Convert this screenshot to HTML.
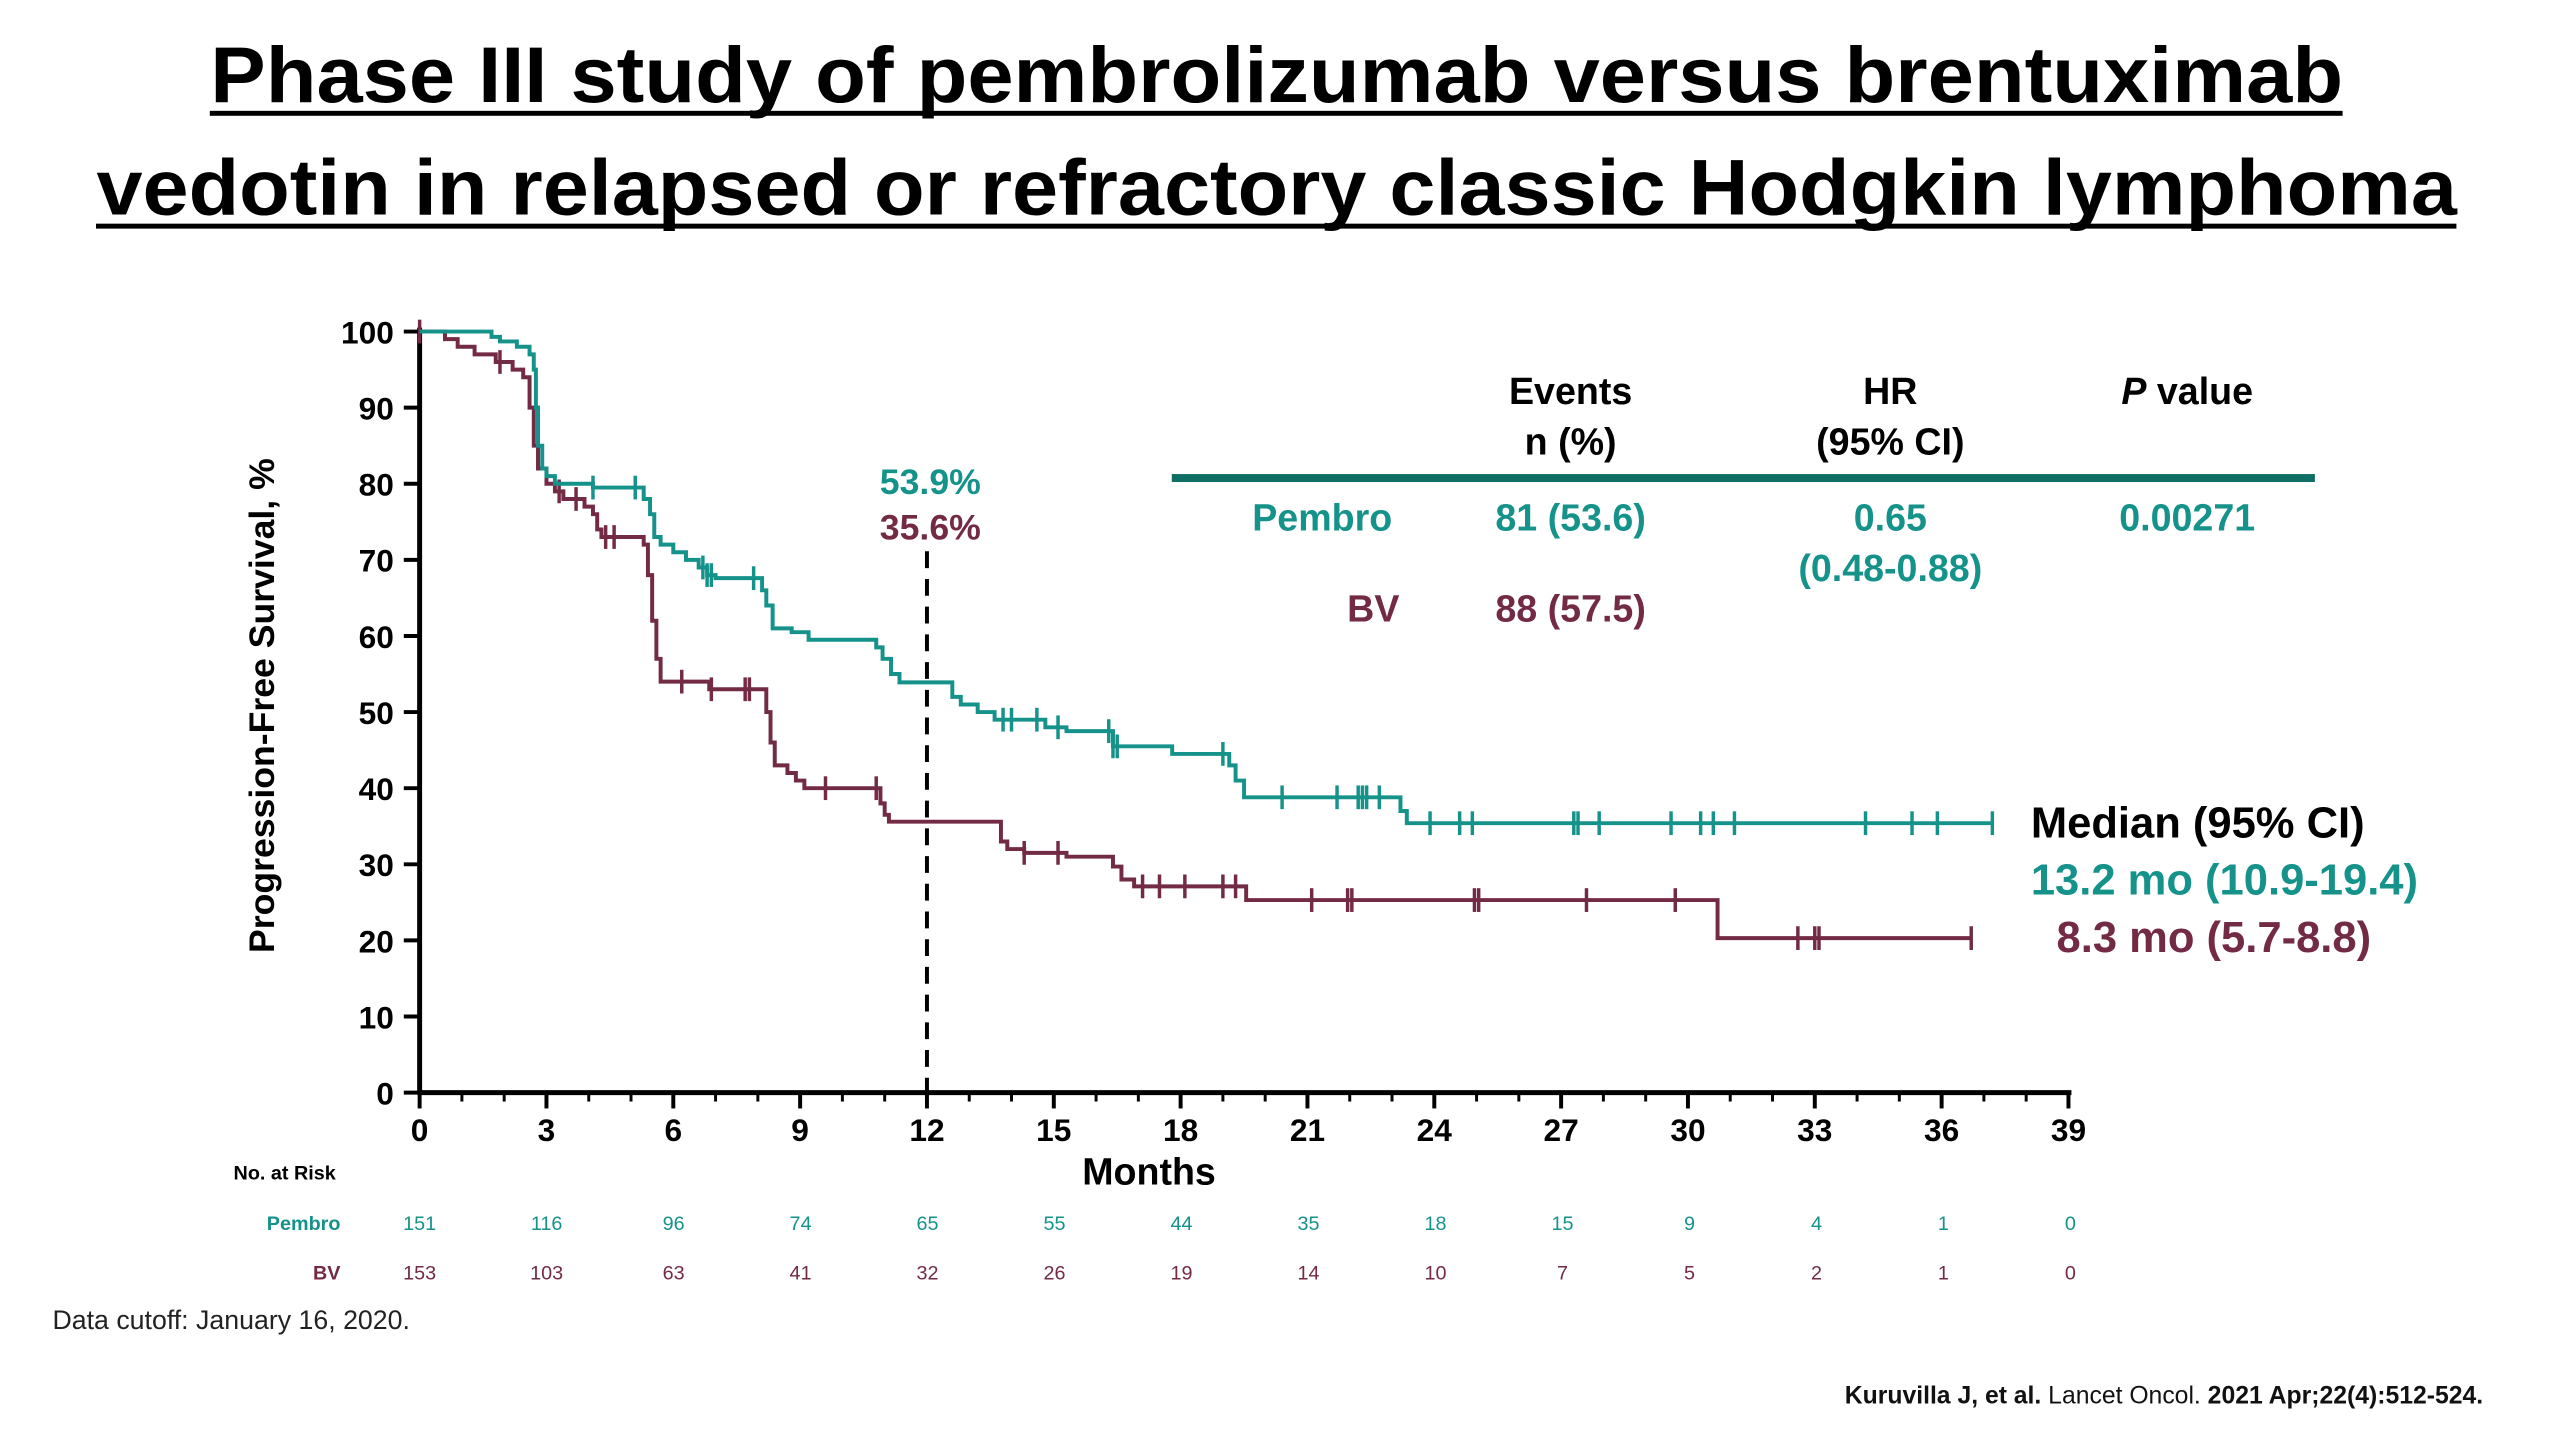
<!DOCTYPE html>
<html><head><meta charset="utf-8"><style>
html,body{margin:0;padding:0;background:#fff;width:2560px;height:1440px;overflow:hidden}
svg{display:block;font-family:"Liberation Sans",Arial,sans-serif}
</style></head><body>
<svg id="chart" width="2560" height="1440" viewBox="0 0 2586 1455" preserveAspectRatio="xMinYMin meet" xmlns="http://www.w3.org/2000/svg">
<g font-weight="bold" font-size="80" text-anchor="middle" fill="#000">
<text x="1290" y="103" textLength="2155" lengthAdjust="spacingAndGlyphs">Phase III study of pembrolizumab versus brentuximab</text>
<text x="1290" y="217" textLength="2385" lengthAdjust="spacingAndGlyphs">vedotin in relapsed or refractory classic Hodgkin lymphoma</text>
<rect x="212" y="112" width="2155" height="5" fill="#000"/>
<rect x="97" y="226" width="2385" height="5" fill="#000"/>
</g>
<g id="axes"></g>
<g id="curves"></g>
<g font-weight="bold" font-size="36" text-anchor="middle">
<text x="940" y="499" fill="#15928a">53.9%</text>
<text x="940" y="545" fill="#722a45">35.6%</text>
</g>
<g font-weight="bold" font-size="38" text-anchor="middle">
<text x="1587" y="408">Events</text>
<text x="1587" y="459">n (%)</text>
<text x="1910" y="408">HR</text>
<text x="1910" y="459">(95% CI)</text>
<text x="2210" y="408"><tspan font-style="italic">P</tspan> value</text>
<rect x="1184" y="479" width="1155" height="8" fill="#0e6e63"/>
<g fill="#15928a">
<text x="1336" y="536">Pembro</text>
<text x="1587" y="536">81 (53.6)</text>
<text x="1910" y="536">0.65</text>
<text x="1910" y="587">(0.48-0.88)</text>
<text x="2210" y="536">0.00271</text>
</g>
<g fill="#722a45">
<text x="1414" y="628" text-anchor="end">BV</text>
<text x="1587" y="628">88 (57.5)</text>
</g>
</g>
<g font-weight="bold" font-size="44">
<text x="2052" y="846" fill="#000">Median (95% CI)</text>
<text x="2052" y="904" fill="#15928a">13.2 mo (10.9-19.4)</text>
<text x="2078" y="962" fill="#722a45">8.3 mo (5.7-8.8)</text>
</g>
<g id="risk"></g>
<text x="53" y="1343" font-size="27" fill="#222">Data cutoff: January 16, 2020.</text>
<text x="2509" y="1418" font-size="25" font-weight="bold" text-anchor="end" fill="#111">Kuruvilla J, et al. <tspan font-weight="normal">Lancet Oncol.</tspan> 2021 Apr;22(4):512-524.</text>
</svg>
<script>
const xTicks=[0,3,6,9,12,15,18,21,24,27,30,33,36,39];
const yTicks=[0,10,20,30,40,50,60,70,80,90,100];
const pembroT=[1.7,1.9,2.3,2.6,2.7,2.75,2.8,2.9,3.0,3.2,4.1,5.3,5.45,5.55,5.7,6.0,6.3,6.6,6.8,7.0,8.1,8.2,8.35,8.8,9.2,10.8,10.95,11.15,11.35,12.6,12.8,13.2,13.6,14.8,15.3,16.4,17.8,19.15,19.3,19.5,23.2,23.35];
const pembroS=[99.3,98.7,98,97,95,90,85,82,81,80,79.5,78,76,73,72,71,70,69,68,67.6,66,64,61,60.5,59.5,58.5,57,55,53.9,52,51,50,49,48,47.5,45.5,44.5,43,41,38.8,37,35.4];
const pembroEnd=37.2;
const pembroCensor=[4.1,5.1,6.7,6.8,6.9,7.9,13.8,14.0,14.6,15.1,16.3,16.4,16.5,19.0,20.4,21.7,22.2,22.3,22.4,22.7,23.9,24.6,24.9,27.3,27.4,27.9,29.6,30.3,30.6,31.1,34.2,35.3,35.9,37.2];
const bvT=[0.6,0.9,1.3,1.8,2.2,2.45,2.6,2.7,2.8,3.0,3.2,3.4,3.9,4.1,4.2,4.3,5.3,5.4,5.5,5.6,5.7,6.85,8.2,8.3,8.4,8.7,8.9,9.1,10.9,11.0,11.1,13.75,13.9,14.3,15.3,16.4,16.6,16.9,19.55,30.7];
const bvS=[99,98,97,96,95,94,90,85,82,80,79,78,77,76,74,73,72,68,62,57,54,53,50,46,43,42,41,40,38,36.5,35.6,33,32,31.5,31,29.7,28,27.1,25.3,20.3];
const bvEnd=36.7;
const bvCensor=[0,1.9,3.3,3.7,4.4,4.6,6.2,6.9,7.7,7.8,9.6,10.8,14.3,15.1,17.1,17.5,18.1,19.0,19.3,21.1,21.95,22.05,24.95,25.05,27.6,29.7,32.6,33.0,33.1,36.7];
const riskPembro=[151,116,96,74,65,55,44,35,18,15,9,4,1,0];
const riskBV=[153,103,63,41,32,26,19,14,10,7,5,2,1,0];
const TEAL="#15928a", MAROON="#722a45";
const X0=424,X1=2090,Y0=1104,Y1=335;
function xs(t){return X0+(X1-X0)*t/39;}
function ys(v){return Y0+(Y1-Y0)*v/100;}
const NS="http://www.w3.org/2000/svg";
function mk(tag,parent,attrs){const e=document.createElementNS(NS,tag);for(const k in attrs)e.setAttribute(k,attrs[k]);parent.appendChild(e);return e;}
const axes=document.getElementById('axes');
let el;
el=mk('line',axes,{x1:X0,y1:Y1-4,x2:X0,y2:Y0+2,stroke:'#000','stroke-width':5});


el=mk('line',axes,{x1:X0-2,y1:Y0,x2:X1+3,y2:Y0,stroke:'#000','stroke-width':5});


yTicks.forEach(v=>{
  el=mk('line',axes,{x1:X0-16,y1:ys(v),x2:X0,y2:ys(v),stroke:'#000','stroke-width':4});
  
  
  el=mk('text',axes,{x:X0-26,y:ys(v)+12,'font-size':32,'font-weight':'bold','text-anchor':'end'});
  el.textContent=v;
  
  
});
for(let m=0;m<=39;m++){
  const major=m%3===0;
  el=mk('line',axes,{x1:xs(m),y1:Y0,x2:xs(m),y2:Y0+(major?16:9),stroke:'#000','stroke-width':major?4:3});
  
  
}
xTicks.forEach(m=>{
  el=mk('text',axes,{x:xs(m),y:1153,'font-size':32,'font-weight':'bold','text-anchor':'middle'});
  el.textContent=m;
  
  
});
el=mk('text',axes,{x:1161,y:1197,'font-size':38,'font-weight':'bold','text-anchor':'middle'});
el.textContent='Months';


el=mk('text',axes,{x:0,y:0,'font-size':36,'font-weight':'bold','text-anchor':'middle',transform:'translate(277,713) rotate(-90)'});
el.textContent='Progression-Free Survival, %';


el=mk('line',axes,{x1:xs(12),y1:557,x2:xs(12),y2:Y0,stroke:'#000','stroke-width':4,'stroke-dasharray':'17,11'});



const curves=document.getElementById('curves');
function curve(T,S,end,cens,color,name){
  let d='M'+xs(0)+' '+ys(100);
  for(let i=0;i<T.length;i++){d+=' H'+xs(T[i])+' V'+ys(S[i]);}
  d+=' H'+xs(end);
  el=mk('path',curves,{d:d,fill:'none',stroke:color,'stroke-width':4});
  
  
  function sAt(t){let s=100;for(let i=0;i<T.length;i++){if(T[i]<=t)s=S[i];}return s;}
  cens.forEach(t=>{
    const yy=ys(sAt(t));
    el=mk('line',curves,{x1:xs(t),y1:yy-12,x2:xs(t),y2:yy+12,stroke:color,'stroke-width':3.5});
    
    
  });
}
curve(bvT,bvS,bvEnd,bvCensor,MAROON,'bv');
curve(pembroT,pembroS,pembroEnd,pembroCensor,TEAL,'pembro');

const risk=document.getElementById('risk');
function rx(i){return 424+i*(2092-424)/13;}
el=mk('text',risk,{x:236,y:1192,'font-size':20,'font-weight':'bold'});
el.textContent='No. at Risk';


[[riskPembro,'Pembro',TEAL,1243],[riskBV,'BV',MAROON,1293]].forEach(([arr,lab,col,y])=>{
  el=mk('text',risk,{x:344,y:y,'font-size':20,'font-weight':'bold','text-anchor':'end',fill:col});
  el.textContent=lab;
  
  
  arr.forEach((v,i)=>{
    el=mk('text',risk,{x:rx(i),y:y,'font-size':20,'text-anchor':'middle',fill:col});
    el.textContent=v;
    
    
  });
});
</script>
</body></html>
